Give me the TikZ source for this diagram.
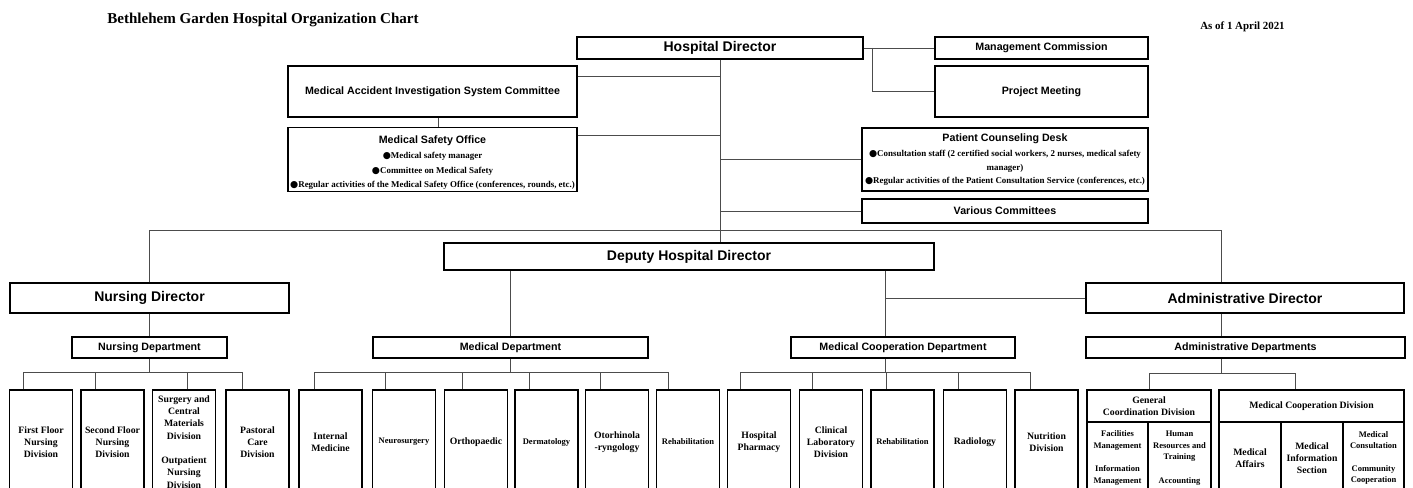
\documentclass[tikz,border=0pt]{standalone}
\usepackage{fontspec}
\setmainfont{Liberation Serif}
\setsansfont{Liberation Sans}
\newfontfamily\dotfont{DejaVu Sans}
\usepackage{tikz}
\usetikzlibrary{calc}
\newcommand{\blt}{{\dotfont\fontsize{7}{7}\selectfont ●}}
\tikzset{
  box/.style={draw=black, line width=0.9pt, inner sep=1pt, align=center,
              font=\sffamily\bfseries\fontsize{8}{9.6}\selectfont},
  bigbox/.style={box, font=\sffamily\bfseries\fontsize{10.5}{12}\selectfont},
  unitbox/.style={box, font=\rmfamily\bfseries\fontsize{7.3}{9.2}\selectfont},
  smallunit/.style={box, font=\rmfamily\bfseries\fontsize{6.4}{8.8}\selectfont},
  sz/.style 2 args={minimum width=#1*0.75pt, minimum height=#2*0.75pt},
  conn/.style={draw=black!70, line width=0.6pt},
}

\begin{document}
\begin{tikzpicture}[x=0.75pt, y=-0.75pt]
            \useasboundingbox (0,0) rectangle (1413,488);
            \clip (0,0) rectangle (1413,488);
            % Heading
            \node[anchor=base west, inner sep=0, font=\rmfamily\bfseries\fontsize{11.3}{13}\selectfont] (title) at (107,24) {Bethlehem Garden Hospital Organization Chart};
            \node[anchor=base west, inner sep=0, font=\rmfamily\bfseries\fontsize{8.2}{10}\selectfont] (asof) at (1200,30) {As of 1 April 2021};
            % Director level
            \node[bigbox, sz={286}{22}]  (hd)    at (720,48)      {Hospital Director};
            \node[box,    sz={213}{22}]  (mc)    at (1041.5,48)   {Management Commission};
            \node[box,    sz={213}{51}]  (pm)    at (1041.5,91.5) {Project Meeting};
            \node[box,    sz={289}{51}]  (maisc) at (432.5,91.5)  {Medical Accident Investigation System Committee};
            \node[box,    sz={289}{63}, font=\sffamily\bfseries\fontsize{8}{11}\selectfont] (mso) at (432.5,159.5)
                 {\rule{0pt}{11pt}Medical Safety Office\\
                  {\rmfamily\fontsize{6.7}{11}\selectfont\blt Medical safety manager}\\
                  {\rmfamily\fontsize{6.7}{11}\selectfont\blt Committee on Medical Safety}\\
                  {\rmfamily\fontsize{6.7}{11}\selectfont\blt Regular activities of the Medical Safety Office (conferences, rounds, etc.)}};
            \node[box,    sz={286}{63}, font=\sffamily\bfseries\fontsize{8}{10}\selectfont] (pcd) at (1005,159.5)
                 {Patient Counseling Desk\\[1.5pt]
                  {\rmfamily\fontsize{6.7}{10}\selectfont\blt Consultation staff (2 certified social workers, 2 nurses, medical safety}\\
                  {\rmfamily\fontsize{6.7}{10}\selectfont manager)}\\
                  {\rmfamily\fontsize{6.7}{10}\selectfont\blt Regular activities of the Patient Consultation Service (conferences, etc.)}};
            \node[box,    sz={286}{24}]  (vc)    at (1005,211)    {Various Committees};
            % Deputy level
            \node[bigbox, sz={490}{27}]  (dhd)   at (689,256.5)   {Deputy Hospital Director};
            \node[bigbox, sz={279}{30}]  (nd)    at (149.5,298)   {Nursing Director};
            \node[bigbox, sz={318}{30}]  (ad)    at (1245,298)    {Administrative Director};
            % Departments
            \node[box,    sz={155}{21}]  (ndept)  at (149.5,347.5) {Nursing Department};
            \node[box,    sz={275}{21}]  (mdept)  at (510.5,347.5) {Medical Department};
            \node[box,    sz={224}{21}]  (mcdept) at (903,347.5)   {Medical Cooperation Department};
            \node[box,    sz={319}{21}]  (adept)  at (1245.5,347.5){Administrative Departments};
            % Nursing units
            \node[unitbox, sz={63}{104}] (nb1) at (41,442)    {First Floor\\Nursing\\Division};
            \node[unitbox, sz={63}{104}] (nb2) at (112.5,442) {Second Floor\\Nursing\\Division};
            \node[unitbox, sz={63}{104}] (nb3) at (184,442)   {Surgery and\\Central\\Materials\\Division\\[9.2pt]Outpatient\\Nursing\\Division};
            \node[unitbox, sz={63}{104}] (nb4) at (257.5,442) {Pastoral\\Care\\Division};
            % Medical units
            \node[unitbox,   sz={63}{104}] (mb1) at (330.5,442) {Internal\\Medicine};
            \node[smallunit, sz={63}{104}] (mb2) at (404,442)   {Neurosurgery};
            \node[unitbox,   sz={63}{104}] (mb3) at (476,442)   {Orthopaedic};
            \node[smallunit, sz={63}{104}] (mb4) at (546.5,442) {Dermatology};
            \node[unitbox,   sz={63}{104}] (mb5) at (617,442)   {Otorhinola\\-ryngology};
            \node[smallunit, sz={63}{104}] (mb6) at (688,442)   {Rehabilitation};
            % Medical cooperation units
            \node[unitbox,   sz={63}{104}] (cb1) at (759,442)    {Hospital\\Pharmacy};
            \node[unitbox,   sz={63}{104}] (cb2) at (831,442)    {Clinical\\Laboratory\\Division};
            \node[smallunit, sz={63}{104}] (cb3) at (902.5,442)  {Rehabilitation};
            \node[unitbox,   sz={63}{104}] (cb4) at (975,442)    {Radiology};
            \node[unitbox,   sz={63}{104}] (cb5) at (1046.5,442) {Nutrition\\Division};
            % Administrative units
            \node[unitbox,   sz={124}{32}] (gcd)  at (1149,406)    {General\\Coordination Division};
            \node[smallunit, sz={61}{72}]  (gca)  at (1117.5,458)  {Facilities\\Management\\[8.8pt]Information\\Management};
            \node[smallunit, sz={63}{72}]  (gcb)  at (1179.5,458)  {Human\\Resources and\\Training\\[8.8pt]Accounting};
            \node[unitbox,   sz={185}{32}] (mcod) at (1311.5,406)  {Medical Cooperation Division};
            \node[unitbox,   sz={62}{72}]  (mca)  at (1250,458)    {Medical\\Affairs};
            \node[unitbox,   sz={62}{72}]  (mcb)  at (1312,458)    {Medical\\Information\\Section};
            \node[smallunit, sz={61}{72}]  (mcc)  at (1373.5,458)  {Medical\\Consultation\\[8pt]Community\\Cooperation};
            % Bus lines
            \coordinate (adx)    at (1221,230);
            \coordinate (mcx)    at (885,298);
            \coordinate (lowbus) at (0,373);
            % Connectors: top
            \draw[conn] (hd.south) -- (hd.south |- dhd.north);
            \draw[conn] ($(maisc.north east)!0.22!(maisc.south east)$) coordinate (m1) -- (m1 -| hd.south);
            \draw[conn] ($(mso.north east)!0.13!(mso.south east)$) coordinate (m2) -- (m2 -| hd.south);
            \draw[conn] ($(maisc.south west)!0.52!(maisc.south east)$) coordinate (m3) -- (m3 |- mso.north);
            \draw[conn] (pcd.west) -- (pcd.west -| hd.south);
            \draw[conn] (vc.west) -- (vc.west -| hd.south);
            \draw[conn] (hd.east) -- (mc.west);
            \draw[conn] ($(hd.east)!0.12!(mc.west)$) |- (pm.west);
            % Connectors: directors
            \draw[conn] (nd.north) |- (adx) -- (ad.north -| adx);
            \draw[conn] (mdept.north) -- (mdept.north |- dhd.south);
            \draw[conn] (dhd.south -| mcx) -- (mcdept.north -| mcx);
            \draw[conn] (ad.west) -- (ad.west -| mcx);
            \draw[conn] (nd.south) -- (ndept.north);
            \draw[conn] (ad.south -| adx) -- (adept.north -| adx);
            % Connectors: departments to units
            \draw[conn] (ndept.south) -- (ndept.south |- lowbus);
            \draw[conn] ($(nb1.north)+(-18,-17)$) -- ($(nb4.north)+(-15,-17)$);
            \foreach \b/\dx in {nb1/-18, nb2/-17, nb3/3, nb4/-15}
                \draw[conn] ($(\b.north)+(\dx,0)$) -- ++(0,-17);
            \draw[conn] (mdept.south) -- (mdept.south |- lowbus);
            \draw[conn] ($(mb1.north)+(-16.5,-17)$) -- ($(mb6.north)+(-20,-17)$);
            \foreach \b/\dx in {mb1/-16.5, mb2/-19, mb3/-14, mb4/-17.5, mb5/-17, mb6/-20}
                \draw[conn] ($(\b.north)+(\dx,0)$) -- ++(0,-17);
            \draw[conn] (mcdept.south -| mcx) -- (mcx |- lowbus);
            \draw[conn] ($(cb1.north)+(-19,-17)$) -- ($(cb5.north)+(-16.5,-17)$);
            \foreach \b/\dx in {cb1/-19, cb2/-19, cb3/-16.5, cb4/-17, cb5/-16.5}
                \draw[conn] ($(\b.north)+(\dx,0)$) -- ++(0,-17);
            \draw[conn] (adept.south -| adx) -- (adx |- lowbus);
            \draw[conn] (gcd.north) -- (gcd.north |- lowbus) -| ($(mcod.north)+(-16.5,0)$);
        \end{tikzpicture}
\end{document}
